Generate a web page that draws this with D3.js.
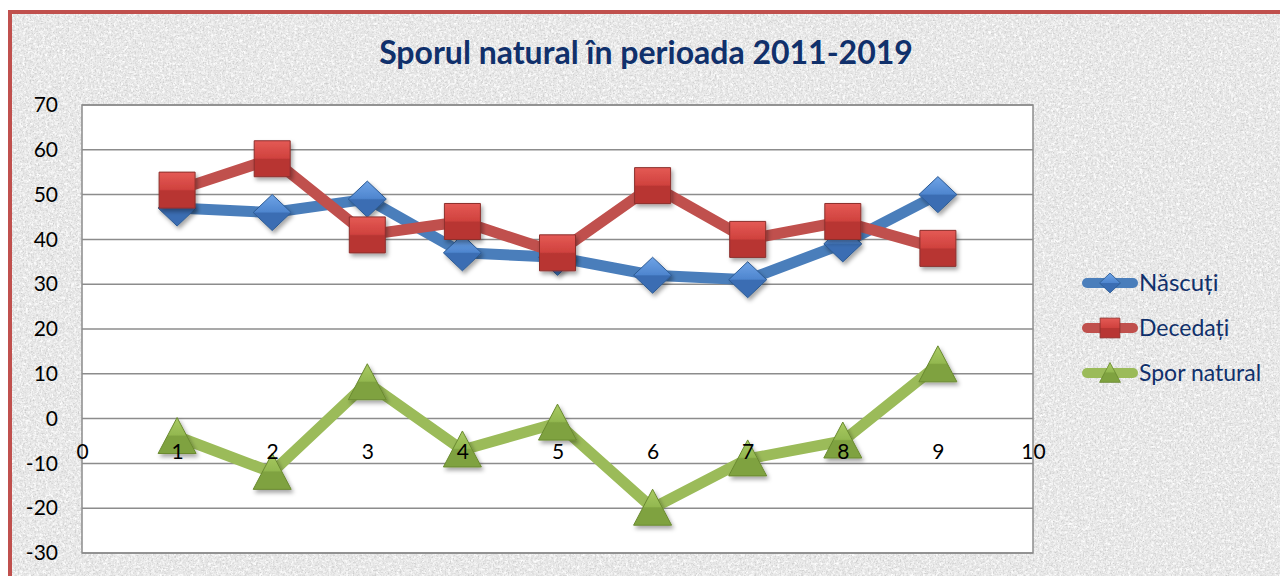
<!DOCTYPE html>
<html>
<head>
<meta charset="utf-8">
<script src="https://cdn.jsdelivr.net/npm/d3@7"></script>
<style>
  html, body { margin: 0; padding: 0; background: #fff; }
  svg { display: block; }
</style>
</head>
<body>
<div id="chart"></div>
<script>
// valori
const xValues = [1, 2, 3, 4, 5, 6, 7, 8, 9];
const nascuti = [47, 46, 49, 37, 36, 32, 31, 39, 50];
const decedati = [51, 58, 41, 44, 37, 52, 40, 44, 38];
const sporNatural = [-4, -12, 8, -7, -1, -20, -9, -5, 12];
const xTicks = [0, 1, 2, 3, 4, 5, 6, 7, 8, 9, 10];
const yTicks = [-30, -20, -10, 0, 10, 20, 30, 40, 50, 60, 70];
const seriesNames = ["Născuți", "Decedați", "Spor natural"];

const W = 1280, H = 576;
const FONT = "Lato, 'Open Sans', sans-serif";
const NAVY = "#10306b";

const svg = d3.select("#chart").append("svg")
    .attr("width", W).attr("height", H);

const defs = svg.append("defs");

// textura gri (granit) - pete inchise
const tex = defs.append("filter").attr("id", "granite")
    .attr("x", 0).attr("y", 0).attr("width", 1).attr("height", 1);
tex.append("feTurbulence").attr("type", "fractalNoise")
    .attr("baseFrequency", 0.6).attr("numOctaves", 3).attr("seed", 4);
tex.append("feColorMatrix").attr("type", "matrix")
    .attr("values", "0 0 0 0 0.6  0 0 0 0 0.6  0 0 0 0 0.6  2.6 0 0 0 -1.25");

// pete deschise
const tex2 = defs.append("filter").attr("id", "granite2")
    .attr("x", 0).attr("y", 0).attr("width", 1).attr("height", 1);
tex2.append("feTurbulence").attr("type", "fractalNoise")
    .attr("baseFrequency", 0.35).attr("numOctaves", 3).attr("seed", 9);
tex2.append("feColorMatrix").attr("type", "matrix")
    .attr("values", "0 0 0 0 1  0 0 0 0 1  0 0 0 0 1  0 2.4 0 0 -0.95");

const shadow = defs.append("filter").attr("id", "shadow")
    .attr("x", "-50%").attr("y", "-50%").attr("width", "200%").attr("height", "200%");
shadow.append("feDropShadow").attr("dx", 2).attr("dy", 3)
    .attr("stdDeviation", 2).attr("flood-color", "#000").attr("flood-opacity", 0.35);

function grad(id, c1, c2, c3) {
    const g = defs.append("linearGradient").attr("id", id)
        .attr("x1", 0).attr("y1", 0).attr("x2", 0).attr("y2", 1);
    g.append("stop").attr("offset", "0%").attr("stop-color", c1);
    g.append("stop").attr("offset", "48%").attr("stop-color", c2);
    g.append("stop").attr("offset", "52%").attr("stop-color", c3);
    g.append("stop").attr("offset", "100%").attr("stop-color", c3);
}
grad("gBlue", "#6ea3e6", "#4f86cf", "#3a6db3");
grad("gRed", "#e45a55", "#d0423e", "#b83633");
grad("gGreen", "#a9ca62", "#93b850", "#7fa240");

// fundal
svg.append("rect").attr("x", 10).attr("y", 12).attr("width", W).attr("height", H)
    .attr("fill", "#e6e6e6");
svg.append("rect").attr("x", 10).attr("y", 12).attr("width", W).attr("height", H)
    .attr("fill", "#fff").attr("filter", "url(#granite2)");
svg.append("rect").attr("x", 10).attr("y", 12).attr("width", W).attr("height", H)
    .attr("fill", "#fff").attr("filter", "url(#granite)");
svg.append("rect").attr("x", 10).attr("y", 12).attr("width", W + 20).attr("height", H + 20)
    .attr("fill", "none").attr("stroke", "#c0504d").attr("stroke-width", 4);

// titlu
svg.append("text")
    .attr("x", 646).attr("y", 64)
    .attr("text-anchor", "middle")
    .attr("font-family", FONT).attr("font-weight", "bold")
    .attr("font-size", 32).attr("fill", NAVY)
    .text("Sporul natural în perioada 2011-2019");

const x = d3.scaleLinear().domain([0, 10]).range([82, 1033]);
const y = d3.scaleLinear().domain([-30, 70]).range([553, 105]);

// zona graficului
svg.append("rect")
    .attr("x", x(0)).attr("y", y(70))
    .attr("width", x(10) - x(0)).attr("height", y(-30) - y(70))
    .attr("fill", "#fff").attr("stroke", "#8c8c8c").attr("stroke-width", 1.5);

svg.append("g").selectAll("line").data(yTicks).join("line")
    .attr("x1", x(0)).attr("x2", x(10))
    .attr("y1", d => y(d)).attr("y2", d => y(d))
    .attr("stroke", "#8c8c8c").attr("stroke-width", 1.5);

// etichete axa Y
const yAxis = svg.append("g")
    .attr("transform", `translate(${x(0)},0)`)
    .call(d3.axisLeft(y).tickValues(yTicks).tickFormat(d => String(d)).tickSize(0).tickPadding(24));
yAxis.select(".domain").remove();
yAxis.selectAll("text")
    .attr("font-family", FONT).attr("font-size", 21).attr("fill", "#000");

const series = [
    { name: seriesNames[0], values: nascuti, color: "#4a7ebb", fill: "url(#gBlue)", edge: "#2c5a93", shape: "diamond" },
    { name: seriesNames[1], values: decedati, color: "#c0504d", fill: "url(#gRed)", edge: "#8c2f2c", shape: "square" },
    { name: seriesNames[2], values: sporNatural, color: "#9bbb59", fill: "url(#gGreen)", edge: "#6a8a30", shape: "triangle" }
];

function markerPath(shape) {
    if (shape === "diamond") return "M0,-18L19,0L0,18L-19,0Z";
    if (shape === "square") return "M-18,-18H18V18H-18Z";
    return "M0,-19L19,17H-19Z";
}

const line = d3.line().x(d => x(d.x)).y(d => y(d.v));

series.forEach(s => {
    const pts = xValues.map((xv, i) => ({ x: xv, v: s.values[i] }));
    svg.append("path").datum(pts)
        .attr("d", line)
        .attr("fill", "none").attr("stroke", s.color)
        .attr("stroke-width", 11).attr("stroke-linejoin", "round").attr("stroke-linecap", "round");
    svg.append("g").selectAll("path").data(pts).join("path")
        .attr("transform", d => `translate(${x(d.x)},${y(d.v)})`)
        .attr("d", markerPath(s.shape))
        .attr("fill", s.fill).attr("stroke", s.edge).attr("stroke-width", 1)
        .attr("filter", "url(#shadow)");
});

// etichete axa X (langa 0), desenate peste serii
const xAxis = svg.append("g")
    .attr("transform", `translate(0,${y(0)})`)
    .call(d3.axisBottom(x).tickValues(xTicks).tickFormat(d => String(d)).tickSize(0).tickPadding(25));
xAxis.select(".domain").remove();
xAxis.selectAll("text")
    .attr("font-family", FONT).attr("font-size", 21).attr("fill", "#000");

// legenda
const legend = svg.append("g");
series.forEach((s, i) => {
    const ly = 283 + i * 45;
    legend.append("line")
        .attr("x1", 1087).attr("x2", 1133).attr("y1", ly).attr("y2", ly)
        .attr("stroke", s.color).attr("stroke-width", 10).attr("stroke-linecap", "round");
    legend.append("path")
        .attr("transform", `translate(1110,${ly}) scale(0.55)`)
        .attr("d", markerPath(s.shape))
        .attr("fill", s.fill).attr("stroke", s.edge).attr("stroke-width", 1.5);
    legend.append("text")
        .attr("x", 1139).attr("y", ly).attr("dy", "0.35em")
        .attr("font-family", FONT).attr("font-size", i === 0 ? 24 : 23)
        .attr("fill", NAVY)
        .text(s.name);
});
</script>
</body>
</html>
